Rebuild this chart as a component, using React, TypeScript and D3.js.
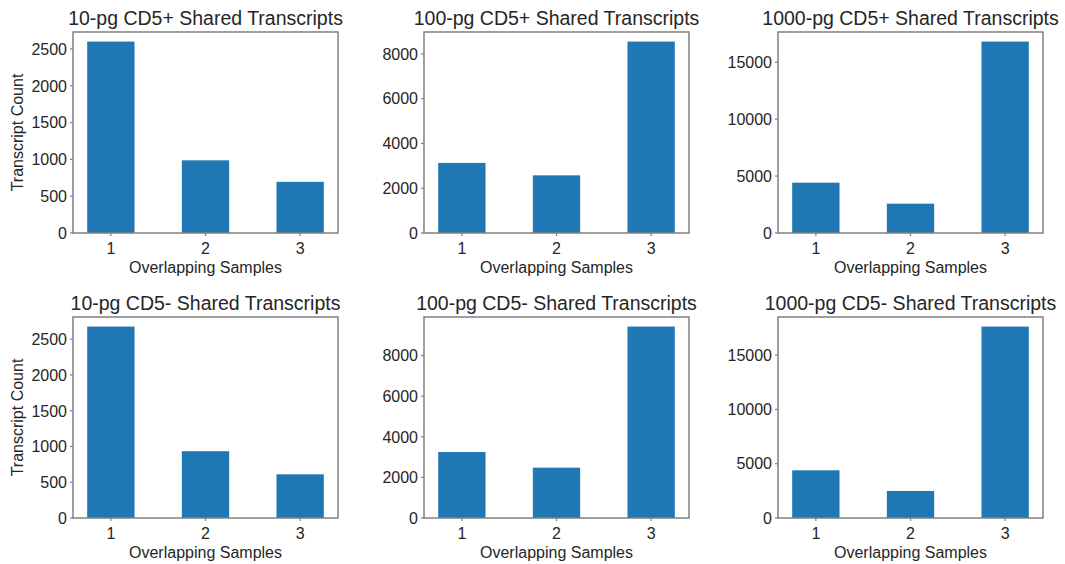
import React from 'react';
import * as d3 from 'd3';

// overlapping-sample categories shared by every panel
const categories = [1, 2, 3];

const titles = [
  '10-pg CD5+ Shared Transcripts',
  '100-pg CD5+ Shared Transcripts',
  '1000-pg CD5+ Shared Transcripts',
  '10-pg CD5- Shared Transcripts',
  '100-pg CD5- Shared Transcripts',
  '1000-pg CD5- Shared Transcripts',
];

const cd5Pos10 = [2600, 987, 695];
const cd5Pos100 = [3130, 2575, 8550];
const cd5Pos1000 = [4420, 2575, 16810];
const cd5Neg10 = [2677, 934, 611];
const cd5Neg100 = [3253, 2480, 9430];
const cd5Neg1000 = [4390, 2490, 17620];

const ticks10 = [0, 500, 1000, 1500, 2000, 2500];
const ticks100 = [0, 2000, 4000, 6000, 8000];
const ticks1000 = [0, 5000, 10000, 15000];

const panelValues = [cd5Pos10, cd5Pos100, cd5Pos1000, cd5Neg10, cd5Neg100, cd5Neg1000];
const panelTicks = [ticks10, ticks100, ticks1000, ticks10, ticks100, ticks1000];

const W = 1065;
const H = 564;
const colLeft = [73, 424, 778];
const rowTop = [32, 317];
const axW = 265;
const axH = 201;

const FONT = '"Liberation Sans", Arial, sans-serif';
const TEXT = '#262626';
const SPINE = '#808080';
const BAR = '#1f77b4';

interface PanelProps {
  idx: number;
}

const Panel: React.FC<PanelProps> = ({ idx }) => {
  const values = panelValues[idx];
  const tickVals = panelTicks[idx];
  const col = idx % 3;
  const row = Math.floor(idx / 3);
  const left = colLeft[col];
  const top = rowTop[row];

  const x = d3.scaleLinear().domain([0.6, 3.4]).range([0, axW]);
  const y = d3.scaleLinear().domain([0, (d3.max(values) || 1) * 1.05]).range([axH, 0]);
  const barW = x(1.5) - x(1);

  return (
    <g transform={`translate(${left},${top})`}>
      {categories.map((c, i) => (
        <rect
          key={c}
          x={x(c) - barW / 2}
          y={y(values[i])}
          width={barW}
          height={axH - y(values[i])}
          fill={BAR}
        />
      ))}
      <rect x={0} y={0} width={axW} height={axH} fill="none" stroke={SPINE} strokeWidth={1.5} />

      {tickVals.map(t => (
        <g key={t} transform={`translate(0,${y(t)})`}>
          <line x1={-3} x2={0} stroke={SPINE} strokeWidth={1.2} />
          <text x={-6} dy="0.36em" textAnchor="end" fontSize={16} fill={TEXT} fontFamily={FONT}>
            {t}
          </text>
        </g>
      ))}

      {categories.map(c => (
        <g key={c} transform={`translate(${x(c)},${axH})`}>
          <line y1={0} y2={3} stroke={SPINE} strokeWidth={1.2} />
          <text y={21} textAnchor="middle" fontSize={16} fill={TEXT} fontFamily={FONT}>
            {c}
          </text>
        </g>
      ))}

      <text x={axW / 2} y={axH + 40} textAnchor="middle" fontSize={16} fill={TEXT} fontFamily={FONT}>
        Overlapping Samples
      </text>

      {col === 0 && (
        <text
          transform={`translate(${23 - left},${axH / 2}) rotate(-90)`}
          textAnchor="middle"
          fontSize={16}
          fill={TEXT}
          fontFamily={FONT}
        >
          Transcript Count
        </text>
      )}

      <text x={axW / 2} y={-7} textAnchor="middle" fontSize={19.5} fill={TEXT} fontFamily={FONT}>
        {titles[idx]}
      </text>
    </g>
  );
};

export default function App() {
  return (
    <div style={{ position: 'absolute', left: 0, top: 0 }}>
      <svg width={W} height={H} style={{ display: 'block', background: '#fff' }}>
        {titles.map((_, i) => (
          <Panel key={i} idx={i} />
        ))}
      </svg>
    </div>
  );
}
